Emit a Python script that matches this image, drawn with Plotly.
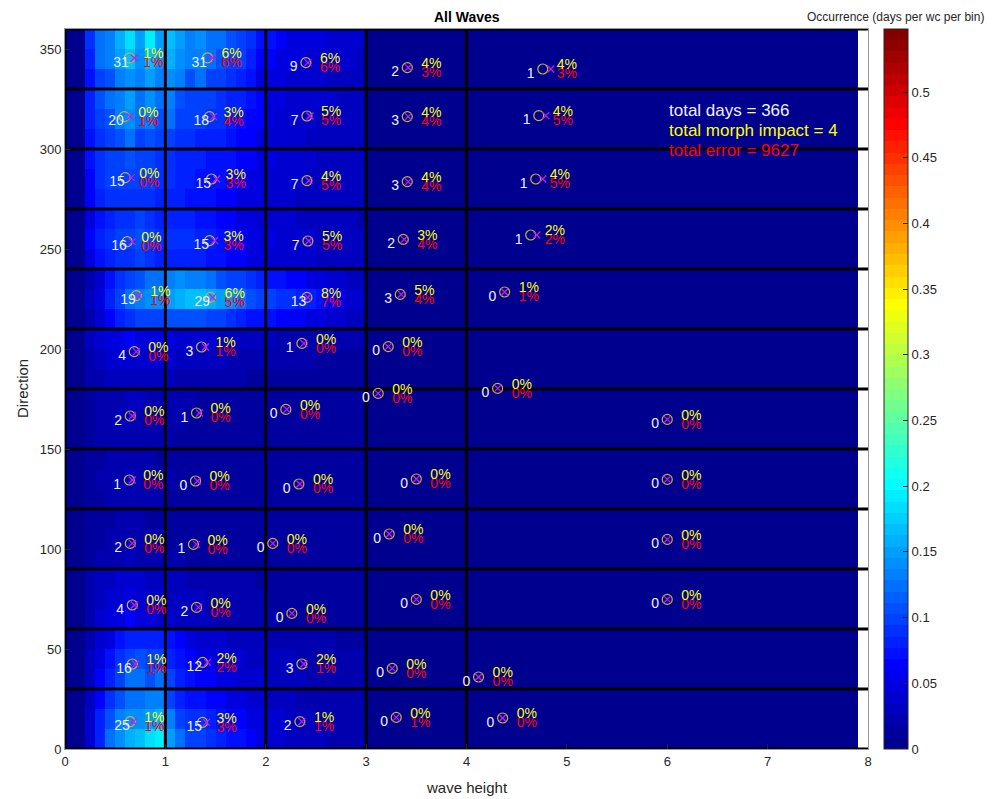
import plotly.graph_objects as go

# ---------------- data ----------------
# occurrence (days per wave-climate per bin), 0.1 m wave-height bins from 0 to 3 m,
# three 10-degree sub-rows per 30-degree direction sector (bottom sub-row first)
occ_000_030 = [
    [0,0,0.04,0.08,0.12,0.14,0.16,0.17,0.18,0.19,0.15,0.12,0.10,0.10,0.09,0.08,0.07,0.07,0.06,0.05,0.04,0.04,0.03,0.03,0.03,0.03,0.02,0.02,0.02,0.02],
    [0,0,0.04,0.08,0.11,0.13,0.14,0.14,0.15,0.16,0.13,0.10,0.09,0.09,0.08,0.07,0.06,0.06,0.05,0.05,0.04,0.04,0.03,0.03,0.03,0.02,0.02,0.02,0.02,0.02],
    [0,0,0.03,0.06,0.09,0.11,0.12,0.12,0.13,0.13,0.10,0.08,0.07,0.07,0.06,0.06,0.05,0.05,0.04,0.04,0.03,0.03,0.03,0.02,0.02,0.02,0.02,0.02,0.02,0.02],
]
occ_030_060 = [
    [0,0,0.03,0.06,0.08,0.10,0.12,0.12,0.11,0.12,0.10,0.08,0.07,0.06,0.06,0.05,0.05,0.04,0.04,0.04,0.03,0.03,0.03,0.03,0.02,0.02,0.02,0.02,0.02,0.02],
    [0,0,0.03,0.05,0.07,0.09,0.10,0.11,0.10,0.10,0.08,0.07,0.06,0.05,0.05,0.05,0.04,0.04,0.03,0.03,0.03,0.03,0.03,0.02,0.02,0.02,0.02,0.02,0.02,0.02],
    [0,0,0.02,0.04,0.05,0.07,0.08,0.08,0.08,0.08,0.07,0.06,0.05,0.04,0.04,0.04,0.03,0.03,0.03,0.03,0.02,0.02,0.02,0.02,0.02,0.02,0.02,0.01,0.01,0.01],
]
occ_060_090 = [
    [0,0,0.02,0.04,0.05,0.05,0.06,0.05,0.05,0.04,0.04,0.03,0.03,0.03,0.03,0.02,0.02,0.02,0.02,0.02,0.02,0.01,0.01,0.01,0.01,0.01,0.01,0.01,0.01,0.01],
    [0,0,0.02,0.03,0.04,0.04,0.05,0.04,0.04,0.04,0.03,0.03,0.03,0.03,0.02,0.02,0.02,0.02,0.02,0.02,0.01,0.01,0.01,0.01,0.01,0.01,0.01,0.01,0.01,0.01],
    [0,0,0.02,0.03,0.03,0.04,0.04,0.04,0.03,0.03,0.03,0.03,0.02,0.02,0.02,0.02,0.02,0.02,0.02,0.01,0.01,0.01,0.01,0.01,0.01,0.01,0.01,0.01,0.01,0.01],
]
occ_090_120 = [
    [0,0,0.01,0.02,0.02,0.02,0.03,0.02,0.02,0.02,0.02,0.02,0.01,0.01,0.01,0.01,0.01,0.01,0.01,0.01,0.01,0.01,0.01,0.01,0.01,0.01,0.01,0.01,0.01,0.01],
    [0,0,0.01,0.01,0.02,0.02,0.02,0.02,0.02,0.02,0.01,0.01,0.01,0.01,0.01,0.01,0.01,0.01,0.01,0.01,0.01,0.01,0.01,0.01,0.01,0.01,0.01,0.01,0.01,0.01],
    [0,0,0.01,0.01,0.01,0.02,0.02,0.02,0.01,0.01,0.01,0.01,0.01,0.01,0.01,0.01,0.01,0.01,0.01,0.01,0.01,0.01,0.01,0.01,0.01,0.01,0.01,0.01,0.01,0.01],
]
occ_120_150 = [
    [0,0,0.01,0.01,0.02,0.02,0.02,0.02,0.02,0.02,0.01,0.01,0.01,0.01,0.01,0.01,0.01,0.01,0.01,0.01,0.01,0.01,0.01,0.01,0.01,0.01,0.01,0.01,0.01,0.01],
    [0,0,0.01,0.02,0.02,0.02,0.03,0.02,0.02,0.02,0.02,0.01,0.01,0.01,0.01,0.01,0.01,0.01,0.01,0.01,0.01,0.01,0.01,0.01,0.01,0.01,0.01,0.01,0.01,0.01],
    [0,0,0.01,0.01,0.02,0.02,0.02,0.02,0.02,0.01,0.01,0.01,0.01,0.01,0.01,0.01,0.01,0.01,0.01,0.01,0.01,0.01,0.01,0.01,0.01,0.01,0.01,0.01,0.01,0.01],
]
occ_150_180 = [
    [0,0,0.01,0.02,0.02,0.02,0.02,0.02,0.02,0.02,0.02,0.01,0.01,0.01,0.01,0.01,0.01,0.01,0.01,0.01,0.01,0.01,0.01,0.01,0.01,0.01,0.01,0.01,0.01,0.01],
    [0,0,0.01,0.02,0.02,0.03,0.03,0.02,0.02,0.02,0.02,0.02,0.01,0.01,0.01,0.01,0.01,0.01,0.01,0.01,0.01,0.01,0.01,0.01,0.01,0.01,0.01,0.01,0.01,0.01],
    [0,0,0.01,0.02,0.02,0.02,0.03,0.03,0.02,0.02,0.02,0.02,0.02,0.01,0.01,0.01,0.01,0.01,0.01,0.01,0.01,0.01,0.01,0.01,0.01,0.01,0.01,0.01,0.01,0.01],
]
occ_180_210 = [
    [0,0,0.02,0.02,0.03,0.03,0.03,0.03,0.03,0.03,0.03,0.02,0.02,0.02,0.02,0.02,0.02,0.02,0.01,0.01,0.01,0.01,0.01,0.01,0.01,0.01,0.01,0.01,0.01,0.01],
    [0,0,0.02,0.03,0.04,0.04,0.04,0.04,0.04,0.04,0.04,0.03,0.03,0.03,0.03,0.03,0.02,0.02,0.02,0.02,0.02,0.02,0.02,0.02,0.02,0.01,0.01,0.01,0.01,0.01],
    [0,0,0.03,0.04,0.05,0.05,0.06,0.05,0.05,0.05,0.05,0.04,0.04,0.04,0.04,0.03,0.03,0.03,0.03,0.03,0.03,0.02,0.02,0.02,0.02,0.02,0.02,0.02,0.02,0.02],
]
occ_210_240 = [
    [0,0,0.02,0.04,0.06,0.08,0.09,0.10,0.10,0.10,0.11,0.11,0.11,0.11,0.10,0.10,0.09,0.08,0.07,0.07,0.07,0.06,0.06,0.06,0.05,0.05,0.04,0.04,0.03,0.03],
    [0,0,0.03,0.05,0.08,0.10,0.12,0.13,0.14,0.14,0.15,0.16,0.17,0.17,0.16,0.15,0.14,0.12,0.11,0.10,0.10,0.09,0.09,0.08,0.08,0.07,0.06,0.05,0.04,0.04],
    [0,0,0.02,0.04,0.07,0.09,0.10,0.11,0.12,0.12,0.13,0.14,0.13,0.13,0.12,0.11,0.10,0.10,0.09,0.08,0.07,0.07,0.06,0.06,0.05,0.05,0.04,0.04,0.03,0.03],
]
occ_240_270 = [
    [0,0,0.05,0.07,0.08,0.09,0.09,0.10,0.09,0.08,0.08,0.08,0.08,0.08,0.07,0.07,0.06,0.06,0.05,0.05,0.04,0.04,0.04,0.04,0.04,0.03,0.03,0.03,0.03,0.03],
    [0,0,0.06,0.08,0.09,0.10,0.10,0.11,0.10,0.09,0.09,0.09,0.09,0.08,0.08,0.07,0.07,0.06,0.05,0.05,0.05,0.04,0.04,0.04,0.04,0.03,0.03,0.03,0.03,0.03],
    [0,0,0.05,0.07,0.08,0.09,0.09,0.10,0.09,0.08,0.08,0.08,0.08,0.07,0.07,0.06,0.06,0.05,0.05,0.04,0.04,0.04,0.04,0.03,0.03,0.03,0.03,0.03,0.03,0.02],
]
occ_270_300 = [
    [0,0,0.06,0.08,0.09,0.09,0.09,0.09,0.09,0.08,0.08,0.08,0.07,0.07,0.07,0.06,0.06,0.05,0.05,0.05,0.04,0.04,0.04,0.03,0.03,0.03,0.03,0.03,0.03,0.03],
    [0,0,0.06,0.09,0.10,0.10,0.10,0.10,0.10,0.09,0.09,0.08,0.08,0.07,0.07,0.07,0.06,0.06,0.05,0.05,0.04,0.04,0.04,0.04,0.03,0.03,0.03,0.03,0.03,0.03],
    [0,0,0.07,0.09,0.10,0.10,0.11,0.10,0.10,0.09,0.09,0.08,0.08,0.08,0.07,0.07,0.07,0.06,0.06,0.05,0.05,0.04,0.04,0.04,0.04,0.03,0.03,0.03,0.03,0.03],
]
occ_300_330 = [
    [0,0,0.07,0.09,0.10,0.11,0.12,0.10,0.11,0.10,0.10,0.09,0.09,0.08,0.08,0.08,0.07,0.06,0.06,0.05,0.04,0.04,0.04,0.04,0.03,0.03,0.03,0.03,0.03,0.03],
    [0,0,0.08,0.10,0.11,0.13,0.14,0.12,0.13,0.11,0.12,0.10,0.10,0.10,0.09,0.09,0.08,0.07,0.06,0.06,0.05,0.04,0.04,0.04,0.04,0.03,0.03,0.03,0.03,0.03],
    [0,0,0.08,0.11,0.12,0.13,0.15,0.12,0.14,0.12,0.13,0.11,0.10,0.10,0.10,0.09,0.08,0.08,0.07,0.06,0.05,0.05,0.04,0.04,0.04,0.04,0.04,0.03,0.03,0.03],
]
occ_330_360 = [
    [0,0,0.07,0.10,0.11,0.13,0.14,0.13,0.15,0.13,0.14,0.13,0.11,0.12,0.10,0.10,0.09,0.08,0.07,0.05,0.05,0.05,0.04,0.04,0.04,0.04,0.03,0.03,0.03,0.03],
    [0,0,0.08,0.12,0.13,0.15,0.17,0.14,0.17,0.14,0.16,0.14,0.13,0.13,0.12,0.11,0.10,0.10,0.08,0.06,0.06,0.05,0.05,0.05,0.04,0.04,0.04,0.04,0.04,0.03],
    [0,0,0.09,0.12,0.13,0.16,0.18,0.15,0.19,0.15,0.17,0.15,0.13,0.14,0.12,0.12,0.11,0.10,0.09,0.07,0.07,0.06,0.05,0.05,0.05,0.05,0.04,0.04,0.04,0.04],
]

# bin-averaged wave climate per (direction sector, wave-height class)
cell_hs = [
    0.65, 1.37, 2.34, 3.30, 4.36,          # 0-30
    0.67, 1.37, 2.36, 3.26, 4.12,          # 30-60
    0.67, 1.31, 2.26, 3.50, 6.00,          # 60-90
    0.65, 1.28, 2.07, 3.23, 6.00,          # 90-120
    0.64, 1.30, 2.33, 3.50, 6.00,          # 120-150
    0.65, 1.31, 2.20, 3.12, 4.31, 6.00,    # 150-180
    0.69, 1.36, 2.36, 3.22,                # 180-210
    0.71, 1.45, 2.41, 3.34, 4.38,          # 210-240
    0.62, 1.44, 2.42, 3.37, 4.64,          # 240-270
    0.60, 1.46, 2.41, 3.41, 4.69,          # 270-300
    0.59, 1.44, 2.41, 3.41, 4.72,          # 300-330
    0.64, 1.42, 2.40, 3.41, 4.76,          # 330-360
]
cell_dir = [
    13.7, 13.3, 13.7, 15.8, 15.5,
    42.5, 43.3, 42.5, 40.3, 36.0,
    72.0, 70.8, 67.8, 74.8, 74.8,
    102.8, 102.3, 102.8, 107.5, 104.8,
    134.5, 134.0, 132.5, 135.0, 134.8,
    166.5, 168.0, 169.8, 177.8, 180.3, 164.8,
    198.7, 201.0, 202.8, 201.2,
    226.7, 225.8, 225.8, 227.3, 228.5,
    253.7, 254.2, 254.0, 254.8, 257.0,
    285.7, 285.0, 284.2, 283.7, 285.0,
    316.2, 316.2, 316.5, 316.2, 316.7,
    345.5, 345.6, 343.2, 340.7, 340.0,
]
# morphology-weighted wave height per cell (x markers)
cell_hs_morph = [
    0.68, 1.41, 2.36, 3.30, 4.36,
    0.70, 1.42, 2.38, 3.26, 4.12,
    0.69, 1.33, 2.26, 3.50, 6.00,
    0.67, 1.31, 2.07, 3.23, 6.00,
    0.67, 1.32, 2.34, 3.50, 6.00,
    0.67, 1.34, 2.21, 3.12, 4.31, 6.00,
    0.71, 1.40, 2.38, 3.22,
    0.73, 1.47, 2.42, 3.35, 4.38,
    0.67, 1.49, 2.43, 3.38, 4.70,
    0.66, 1.51, 2.43, 3.42, 4.76,
    0.65, 1.48, 2.44, 3.42, 4.79,
    0.69, 1.47, 2.42, 3.42, 4.84,
]
cell_days = [
    25, 15, 2, 0, 0,
    16, 12, 3, 0, 0,
    4, 2, 0, 0, 0,
    2, 1, 0, 0, 0,
    1, 0, 0, 0, 0,
    2, 1, 0, 0, 0, 0,
    4, 3, 1, 0,
    19, 29, 13, 3, 0,
    16, 15, 7, 2, 1,
    15, 15, 7, 3, 1,
    20, 18, 7, 3, 1,
    31, 31, 9, 2, 1,
]
cell_impact = [
    1, 3, 1, 0, 0,
    1, 2, 2, 0, 0,
    0, 0, 0, 0, 0,
    0, 0, 0, 0, 0,
    0, 0, 0, 0, 0,
    0, 0, 0, 0, 0, 0,
    0, 1, 0, 0,
    1, 6, 8, 5, 1,
    0, 3, 5, 3, 2,
    0, 3, 4, 4, 4,
    0, 3, 5, 4, 4,
    1, 6, 6, 4, 4,
]
cell_error = [
    1, 3, 1, 1, 0,
    1, 2, 1, 0, 0,
    0, 0, 0, 0, 0,
    0, 0, 0, 0, 0,
    0, 0, 0, 0, 0,
    0, 0, 0, 0, 0, 0,
    0, 1, 0, 0,
    1, 5, 7, 4, 1,
    0, 3, 5, 4, 2,
    0, 3, 5, 4, 5,
    1, 4, 5, 4, 5,
    1, 6, 6, 3, 3,
]
hs_class_edges = [0, 1, 2, 3, 4, 8]
dir_sector_edges = [0, 30, 60, 90, 120, 150, 180, 210, 240, 270, 300, 330, 360]
total_days = 366
total_morph_impact = 4
total_error = 9627

# ---------------- styling helpers ----------------
NBINS_X = 79          # 0.1 m bins from 0 to 7.9 m
x_centers = [round(0.05 + 0.1 * i, 2) for i in range(NBINS_X)]
y_centers = [5 + 10 * j for j in range(36)]
sectors = [occ_000_030, occ_030_060, occ_060_090, occ_090_120, occ_120_150, occ_150_180,
           occ_180_210, occ_210_240, occ_240_270, occ_270_300, occ_300_330, occ_330_360]
z = []
for s in sectors:
    for row in s:
        z.append(row + [0.0] * (NBINS_X - len(row)))   # no occurrences above 3 m


def jet(v):
    def c(t):
        return max(0.0, min(1.0, t))
    r = c(1.5 - abs(4 * v - 3))
    g = c(1.5 - abs(4 * v - 2))
    b = c(1.5 - abs(4 * v - 1))
    return "rgb(%d,%d,%d)" % (round(r * 255), round(g * 255), round(b * 255))


N = 64
jet_scale = []
for i in range(N):
    col = jet((i + 1) / N)
    jet_scale.append([i / N, col])
    jet_scale.append([(i + 1) / N, col])

ZMAX = 0.548
FONT = "Liberation Sans, Arial, sans-serif"
TXT = "#262626"

fig = go.Figure()
fig.add_trace(go.Heatmap(
    x=x_centers, y=y_centers, z=z, zmin=0, zmax=ZMAX, colorscale=jet_scale,
    hoverinfo="skip",
    colorbar=dict(
        x=1.0199, xanchor="left", xpad=0, thickness=24, len=1, lenmode="fraction",
        y=0.5, yanchor="middle", ypad=0, outlinecolor=TXT, outlinewidth=1,
        ticks="inside", ticklen=5, tickcolor=TXT,
        tickvals=[0, 0.05, 0.1, 0.15, 0.2, 0.25, 0.3, 0.35, 0.4, 0.45, 0.5],
        ticktext=["0", "0.05", "0.1", "0.15", "0.2", "0.25", "0.3", "0.35", "0.4", "0.45", "0.5"],
        tickfont=dict(family=FONT, size=13, color=TXT),
    ),
))

# black class/sector grid lines (drawn over heatmap, under markers)
gx, gy = [], []
for e in hs_class_edges[:-1]:
    gx += [e, e, None]
    gy += [0, 360, None]
for d in dir_sector_edges:
    gx += [0, 8, None]
    gy += [d, d, None]
fig.add_trace(go.Scatter(x=gx, y=gy, mode="lines", line=dict(color="black", width=3),
                         hoverinfo="skip", showlegend=False))

fig.add_trace(go.Scatter(x=cell_hs, y=cell_dir, mode="markers", showlegend=False,
                         marker=dict(symbol="circle-open", size=10, color="#C8B432",
                                     line=dict(width=1.2, color="#C8B432"))))
fig.add_trace(go.Scatter(x=cell_hs_morph, y=cell_dir, mode="markers", showlegend=False,
                         marker=dict(symbol="x-thin-open", size=7, color="#C020E0",
                                     line=dict(width=1.3, color="#C020E0"))))

fig.add_trace(go.Scatter(
    x=[h - 0.16 for h in cell_hs], y=[d - 2.6 for d in cell_dir], mode="text",
    text=[str(n) for n in cell_days], textposition="middle right",
    textfont=dict(family=FONT, size=14, color="#F0F0FF"), showlegend=False, hoverinfo="skip"))
fig.add_trace(go.Scatter(
    x=[h + 0.14 for h in cell_hs], y=[d - 2.8 for d in cell_dir], mode="text",
    text=["%d%%" % v for v in cell_error], textposition="middle right",
    textfont=dict(family=FONT, size=14, color="#FF0000"), showlegend=False, hoverinfo="skip"))
fig.add_trace(go.Scatter(
    x=[h + 0.14 for h in cell_hs], y=[d + 1.6 for d in cell_dir], mode="text",
    text=["%d%%" % v for v in cell_impact], textposition="middle right",
    textfont=dict(family=FONT, size=14, color="#FFFF00"), showlegend=False, hoverinfo="skip"))

ann = [
    dict(x=6.0, y=319.5, text="total days = %d" % total_days, font=dict(color="#F0F0FF")),
    dict(x=6.0, y=309.5, text="total morph impact = %d" % total_morph_impact, font=dict(color="#FFFF00")),
    dict(x=6.0, y=299.5, text="total error = %d" % total_error, font=dict(color="#FF0000")),
]
annotations = []
for a in ann:
    a.update(xref="x", yref="y", xanchor="left", yanchor="middle", showarrow=False)
    a["font"].update(family=FONT, size=17)
    annotations.append(a)

annotations += [
    dict(xref="paper", yref="paper", x=0.5, y=1 + 12 / 720, text="<b>All Waves</b>",
         showarrow=False, xanchor="center", yanchor="middle",
         font=dict(family=FONT, size=14, color="black")),
    dict(xref="paper", yref="paper", x=(896 - 65) / 803, y=1 + 12 / 720,
         text="Occurrence (days per wc per bin)", showarrow=False,
         xanchor="center", yanchor="middle", font=dict(family=FONT, size=12, color=TXT)),
    dict(xref="paper", yref="paper", x=0.5, y=-38 / 720, text="wave height",
         showarrow=False, xanchor="center", yanchor="middle",
         font=dict(family=FONT, size=15, color=TXT)),
    dict(xref="paper", yref="paper", x=-43 / 803, y=0.5, text="Direction", textangle=-90,
         showarrow=False, xanchor="center", yanchor="middle",
         font=dict(family=FONT, size=15, color=TXT)),
]

fig.update_layout(
    width=1003, height=799,
    margin=dict(l=65, r=135, t=29, b=50),
    paper_bgcolor="white", plot_bgcolor="white",
    showlegend=False,
    annotations=annotations,
    xaxis=dict(range=[0, 8], tickvals=[0, 1, 2, 3, 4, 5, 6, 7, 8], ticks="inside", ticklen=5,
               tickcolor=TXT, showgrid=False, zeroline=False, showline=True, mirror=True,
               linecolor="#999999", linewidth=1, tickfont=dict(family=FONT, size=13, color=TXT)),
    yaxis=dict(range=[0, 360], tickvals=[0, 50, 100, 150, 200, 250, 300, 350], ticks="inside",
               ticklen=5, tickcolor=TXT, showgrid=False, zeroline=False, showline=True, mirror=True,
               linecolor="#999999", linewidth=1, tickfont=dict(family=FONT, size=13, color=TXT)),
)

fig.write_html("out.html")
